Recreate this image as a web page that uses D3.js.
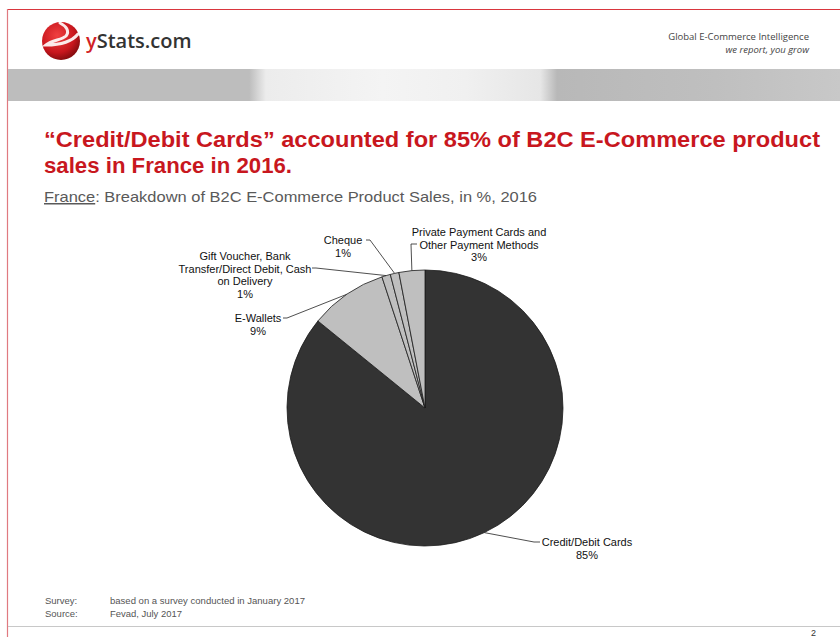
<!DOCTYPE html>
<html><head><meta charset="utf-8">
<script src="https://cdn.jsdelivr.net/npm/d3@7/dist/d3.min.js"></script>
<style>body{margin:0;background:#fff}svg{display:block}</style>
</head><body>
<svg id="c" width="840" height="637"></svg>
<script>
const categories = ["Credit/Debit Cards","E-Wallets","Gift Voucher, Bank Transfer/Direct Debit, Cash on Delivery","Cheque","Private Payment Cards and Other Payment Methods"];
const values = [85, 9, 1, 1, 3];
const labelLines = [
  ["Credit/Debit Cards","85%"],
  ["E-Wallets","9%"],
  ["Gift Voucher, Bank","Transfer/Direct Debit, Cash","on Delivery","1%"],
  ["Cheque","1%"],
  ["Private Payment Cards and","Other Payment Methods","3%"]
];
const colors = ["#333333","#bfbfbf","#bfbfbf","#bfbfbf","#bfbfbf"];

const svg = d3.select("#c");
const F = "'Liberation Sans', Arial, sans-serif";

// frame
svg.append("line").attr("x1",7.5).attr("x2",840).attr("y1",9.5).attr("y2",9.5).attr("stroke","#d9363e").attr("stroke-width",1.2);
svg.append("line").attr("x1",7.5).attr("x2",7.5).attr("y1",9).attr("y2",637).attr("stroke","#e07a80").attr("stroke-width",1.2);

// logo
const defs = svg.append("defs");
const rg = defs.append("radialGradient").attr("id","ball").attr("cx","40%").attr("cy","35%").attr("r","65%");
rg.append("stop").attr("offset","0%").attr("stop-color","#f04040");
rg.append("stop").attr("offset","70%").attr("stop-color","#c8161d");
rg.append("stop").attr("offset","100%").attr("stop-color","#8a0d10");
svg.append("circle").attr("cx",61).attr("cy",41).attr("r",19).attr("fill","url(#ball)");
svg.append("path").attr("d","M60 23 C 66 26, 70 31, 66 36 C 62 40, 52 40, 46 45 C 56 45, 70 44, 78 34")
  .attr("fill","none").attr("stroke","#fff").attr("stroke-width",3).attr("stroke-linecap","round").attr("opacity",0.9);
const lt = svg.append("text").attr("x",86).attr("y",48).attr("font-family","'Open Sans', "+F).attr("font-size",20).attr("font-weight",600);
lt.append("tspan").attr("fill","#d21f26").text("y");
lt.append("tspan").attr("fill","#333").text("Stats.com");

svg.append("text").attr("x",809).attr("y",40).attr("text-anchor","end").attr("font-family","'Open Sans', "+F).attr("font-size",9.5).attr("fill","#444").text("Global E-Commerce Intelligence");
svg.append("text").attr("x",809).attr("y",53).attr("text-anchor","end").attr("font-family","'Open Sans', "+F).attr("font-size",9.5).attr("font-style","italic").attr("fill","#444").text("we report, you grow");

// banner
const lg = defs.append("linearGradient").attr("id","ban").attr("x1","0").attr("x2","1");
[[0,"#bdbdbd"],[0.29,"#bdbdbd"],[0.31,"#ececec"],[0.45,"#f4f4f4"],[0.55,"#f0f0f0"],[0.64,"#e6e6e6"],[0.66,"#b8b8b8"],[0.85,"#bfbfbf"],[1,"#c8c8c8"]]
  .forEach(([o,c])=>lg.append("stop").attr("offset",o).attr("stop-color",c));
svg.append("rect").attr("x",8).attr("y",69).attr("width",832).attr("height",32).attr("fill","url(#ban)");

// title
svg.append("text").attr("x",44).attr("y",147).attr("font-family",F).attr("font-weight","bold").attr("font-size",22).attr("fill","#c8171e")
  .attr("textLength",776).attr("lengthAdjust","spacingAndGlyphs").text("\u201CCredit/Debit Cards\u201D accounted for 85% of B2C E-Commerce product");
svg.append("text").attr("x",44).attr("y",173).attr("font-family",F).attr("font-weight","bold").attr("font-size",22).attr("fill","#c8171e")
  .attr("textLength",248).attr("lengthAdjust","spacingAndGlyphs").text("sales in France in 2016.");
const st = svg.append("text").attr("x",44).attr("y",202).attr("font-family",F).attr("font-size",15).attr("fill","#595959")
  .attr("textLength",493).attr("lengthAdjust","spacingAndGlyphs");
st.append("tspan").attr("text-decoration","underline").text("France");
st.append("tspan").text(": Breakdown of B2C E-Commerce Product Sales, in %, 2016");

// pie
const cx = 425, cy = 408, R = 138;
const pie = d3.pie().sort(null).value(d=>d)(values);
const arc = d3.arc().innerRadius(0).outerRadius(R);
const g = svg.append("g").attr("transform",`translate(${cx},${cy})`);
g.selectAll("path").data(pie).join("path").attr("d",arc)
  .attr("fill",(d,i)=>colors[i]).attr("stroke","#1a1a1a").attr("stroke-width",0.8);

const labelPos = [
  {x:587, y:546, lx:540, ly:542},
  {x:258, y:322, lx:284, ly:318},
  {x:245, y:260, lx:313, ly:268},
  {x:343, y:244, lx:367, ly:240},
  {x:479, y:236, lx:413, ly:244}
];
const lineH = 12.5;
pie.forEach((d,i)=>{
  const p = labelPos[i];
  const a = (d.startAngle + d.endAngle)/2;
  const ex = cx + R*Math.sin(a), ey = cy - R*Math.cos(a);
  let pts;
  if (i===0) pts = [[ex,ey],[p.lx-6,p.ly],[p.lx,p.ly]];
  else if (i===4) pts = [[ex,ey],[p.lx-2,p.ly],[p.lx+4,p.ly]];
  else pts = [[ex,ey],[p.lx+3,p.ly],[p.lx-1,p.ly]];
  svg.append("path").attr("d",d3.line()(pts)).attr("fill","none").attr("stroke","#222").attr("stroke-width",0.8);
  const t = svg.append("text").attr("font-family",F).attr("font-size",11).attr("fill","#111").attr("text-anchor","middle");
  labelLines[i].forEach((s,k)=>t.append("tspan").attr("x",p.x).attr("y",p.y + k*lineH).text(s));
});

// footer
const ff = {fam:F, size:9.5, col:"#555"};
[["Survey:","based on a survey conducted in January 2017",604,195],["Source:","Fevad, July 2017",617,72]].forEach(([a,b,y,w])=>{
  svg.append("text").attr("x",45).attr("y",y).attr("font-family",ff.fam).attr("font-size",ff.size).attr("fill",ff.col).text(a);
  svg.append("text").attr("x",110).attr("y",y).attr("font-family",ff.fam).attr("font-size",ff.size).attr("fill",ff.col)
    .attr("textLength",w).attr("lengthAdjust","spacingAndGlyphs").text(b);
});
svg.append("line").attr("x1",8).attr("x2",840).attr("y1",626.5).attr("y2",626.5).attr("stroke","#c8c8c8").attr("stroke-width",1);
svg.append("text").attr("x",816).attr("y",636).attr("text-anchor","end").attr("font-family",F).attr("font-size",9).attr("fill","#333").text("2");
</script>
</body></html>
